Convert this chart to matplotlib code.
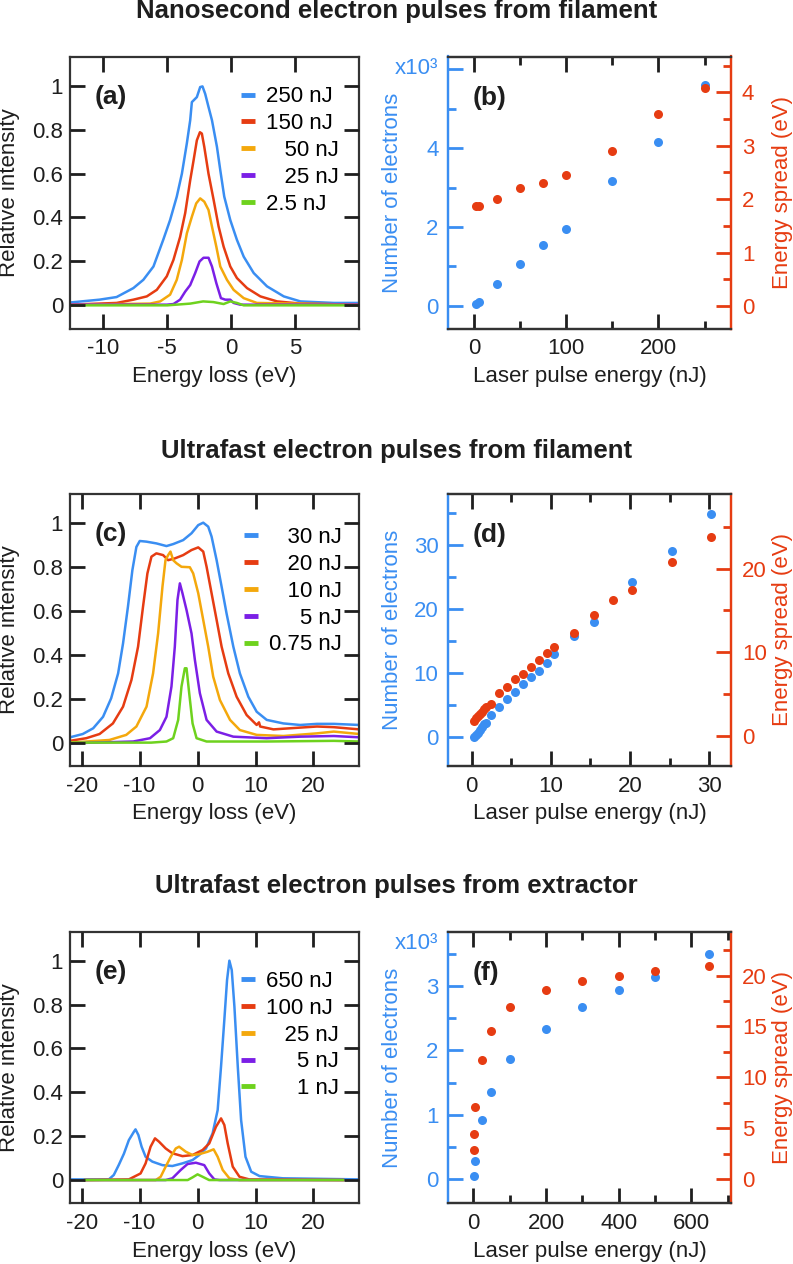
import numpy as np
import matplotlib
matplotlib.use('Agg')
import matplotlib.pyplot as plt
from matplotlib.ticker import FixedLocator

plt.rcParams['font.family'] = ['Liberation Sans', 'DejaVu Sans']
plt.rcParams['font.size'] = 16
plt.rcParams['axes.unicode_minus'] = False
plt.rcParams['axes.axisbelow'] = False
plt.rcParams['xtick.direction'] = 'in'
plt.rcParams['ytick.direction'] = 'in'
plt.rcParams['xtick.top'] = True
plt.rcParams['ytick.right'] = True
plt.rcParams['xtick.major.size'] = 10.5
plt.rcParams['ytick.major.size'] = 10.5
plt.rcParams['xtick.minor.size'] = 6
plt.rcParams['ytick.minor.size'] = 6
plt.rcParams['xtick.major.width'] = 2.0
plt.rcParams['ytick.major.width'] = 2.0
plt.rcParams['xtick.minor.width'] = 2.0
plt.rcParams['ytick.minor.width'] = 2.0

# colours
BLUE = '#3a8ef2'
RED = '#e63c12'
ORANGE = '#f4a80c'
PURPLE = '#7b1fe6'
GREEN = '#6ed21e'
DARK = '#1e1e1e'

# ---------------- (a) nanosecond spectra ----------------
a_x_250 = [-12.6, -10.3, -8.96, -7.65, -6.87, -6.08, -5.3, -4.78, -4.26, -3.86, -3.47, -3.21, -3.08, -2.69,
           -2.43, -2.25, -2.04, -1.78, -1.51, -1.12, -0.86, -0.55, -0.08, 0.44, 0.97, 1.75, 2.79, 4.1, 5.4, 8.0, 10.0]
a_y_250 = [0.01, 0.023, 0.035, 0.076, 0.114, 0.175, 0.30, 0.388, 0.495, 0.60, 0.74, 0.845, 0.928, 0.951,
           0.997, 1.0, 0.966, 0.906, 0.845, 0.723, 0.616, 0.495, 0.388, 0.297, 0.22, 0.145, 0.084, 0.038, 0.015, 0.008, 0.008]
a_x_150 = [-12.6, -8.96, -7.65, -6.6, -5.82, -5.04, -4.52, -4.0, -3.6, -3.21, -2.95, -2.69, -2.45, -2.3, -2.11,
           -1.78, -1.38, -0.99, -0.6, -0.08, 0.44, 1.23, 2.27, 3.58, 5.4, 10.0]
a_y_150 = [0.0, 0.008, 0.023, 0.038, 0.068, 0.13, 0.205, 0.31, 0.42, 0.57, 0.66, 0.753, 0.79, 0.784, 0.723,
           0.60, 0.48, 0.358, 0.266, 0.175, 0.122, 0.076, 0.038, 0.015, 0.005, 0.0]
a_x_50 = [-12.6, -6.34, -5.56, -4.78, -4.26, -3.86, -3.47, -3.08, -2.74, -2.43, -2.11, -1.78, -1.51, -1.17,
          -0.86, -0.34, 0.18, 0.97, 2.0, 10.0]
a_y_50 = [0.0, 0.005, 0.015, 0.046, 0.114, 0.205, 0.327, 0.403, 0.464, 0.487, 0.472, 0.434, 0.358, 0.266,
          0.175, 0.114, 0.068, 0.03, 0.008, 0.0]
a_x_25 = [-12.6, -5.04, -4.52, -4.0, -3.6, -3.21, -2.82, -2.48, -2.17, -1.78, -1.51, -1.17, -0.81, -0.47,
          -0.08, 0.18, 0.7, 10.0]
a_y_25 = [0.0, 0.0, 0.003, 0.023, 0.06, 0.09, 0.145, 0.198, 0.215, 0.215, 0.175, 0.099, 0.03, 0.023,
          0.023, 0.008, 0.0, 0.0]
a_x_2p5 = [-12.6, -5.0, -3.2, -2.2, -1.4, -0.6, -0.08, 0.44, 0.97, 10.0]
a_y_2p5 = [-0.003, -0.003, 0.005, 0.015, 0.012, 0.003, 0.015, 0.008, -0.003, -0.003]

# ---------------- (b) nanosecond yield / spread ----------------
b_energy = [2.5, 5, 25, 50, 75, 100, 150, 200, 250]
b_electrons = [0.04, 0.09, 0.55, 1.06, 1.54, 1.95, 3.17, 4.15, 5.61]   # x10^3
b_spread = [1.88, 1.88, 2.01, 2.21, 2.31, 2.46, 2.90, 3.60, 4.08]      # eV

# ---------------- (c) ultrafast filament spectra ----------------
c_x_30 = [-22.0, -19.8, -18.0, -16.3, -14.9, -13.7, -12.85, -12.0, -11.24, -10.55, -9.97, -8.82, -7.09, -5.36,
          -4.2, -2.48, -1.04, 0.12, 0.98, 1.84, 2.42, 3.29, 4.15, 5.0, 6.17, 7.3, 8.76, 10.2, 11.93, 14.8,
          17.7, 20.6, 23.5, 27.9]
c_y_30 = [0.027, 0.042, 0.068, 0.12, 0.204, 0.317, 0.453, 0.62, 0.785, 0.89, 0.917, 0.914, 0.906, 0.894,
          0.903, 0.921, 0.952, 0.989, 1.0, 0.982, 0.937, 0.83, 0.71, 0.589, 0.438, 0.317, 0.211, 0.143, 0.106,
          0.09, 0.083, 0.088, 0.088, 0.083]
c_x_20 = [-22.0, -19.2, -16.9, -14.6, -12.85, -11.4, -10.26, -9.4, -8.65, -7.95, -7.1, -5.94, -5.07, -3.92,
          -2.48, -1.04, 0.12, 0.98, 1.56, 2.42, 3.29, 4.15, 5.3, 6.74, 8.47, 10.2, 10.6, 10.8, 13.1, 15.96,
          20.6, 23.5, 27.9]
c_y_20 = [0.011, 0.023, 0.042, 0.09, 0.166, 0.287, 0.438, 0.62, 0.77, 0.846, 0.861, 0.853, 0.83, 0.838,
          0.853, 0.876, 0.888, 0.869, 0.80, 0.68, 0.559, 0.438, 0.317, 0.211, 0.128, 0.083, 0.095, 0.076,
          0.063, 0.068, 0.076, 0.073, 0.063]
c_x_10 = [-22.0, -15.2, -12.3, -10.55, -8.8, -7.67, -6.8, -6.05, -5.53, -5.07, -4.67, -4.2, -3.63, -2.77,
          -1.33, -0.75, 0.12, 0.98, 1.84, 2.7, 3.86, 5.6, 7.3, 10.2, 14.8, 20.6, 23.5, 27.9]
c_y_10 = [0.003, 0.015, 0.038, 0.076, 0.166, 0.317, 0.498, 0.71, 0.83, 0.853, 0.869, 0.83, 0.816, 0.80,
          0.798, 0.77, 0.68, 0.559, 0.438, 0.302, 0.196, 0.106, 0.06, 0.038, 0.033, 0.045, 0.053, 0.042]
c_x_5 = [-22.0, -11.1, -8.2, -6.5, -5.36, -4.5, -3.92, -3.46, -3.05, -2.6, -1.9, -1.04, -0.46, 0.4, 1.56,
         3.29, 6.17, 11.93, 17.7, 23.5, 27.9]
c_y_5 = [0.0, 0.008, 0.023, 0.06, 0.12, 0.257, 0.438, 0.65, 0.725, 0.68, 0.604, 0.498, 0.378, 0.227, 0.106,
         0.053, 0.03, 0.023, 0.03, 0.033, 0.027]
c_x_075 = [-22.0, -8.0, -5.36, -4.2, -3.34, -2.77, -2.19, -1.9, -1.44, -0.86, -0.17, 1.56, 11.9, 23.5, 27.9]
c_y_075 = [0.003, 0.003, 0.008, 0.023, 0.106, 0.257, 0.34, 0.34, 0.227, 0.09, 0.023, 0.008, 0.008, 0.011, 0.008]

# ---------------- (d) ultrafast filament yield / spread ----------------
d_energy_n = [0.25, 0.5, 0.75, 1.0, 1.25, 1.5, 1.75, 2.5, 3.5, 4.5, 5.5, 6.5, 7.5, 8.5, 9.5, 10.4, 12.9,
              15.4, 20.3, 25.3, 30.2]
d_electrons = [0.1, 0.36, 0.73, 1.14, 1.66, 2.03, 2.29, 3.43, 4.73, 5.98, 7.12, 8.27, 9.36, 10.4, 11.6,
               13.0, 15.86, 17.94, 24.2, 29.1, 34.8]
d_energy_s = [0.25, 0.5, 0.75, 1.0, 1.25, 1.5, 1.75, 2.5, 3.5, 4.5, 5.5, 6.5, 7.5, 8.5, 9.5, 10.4, 12.9,
              15.4, 17.9, 20.3, 25.3, 30.2]
d_spread = [1.83, 2.11, 2.39, 2.62, 2.9, 3.22, 3.46, 3.86, 5.17, 5.88, 6.80, 7.44, 8.23, 9.03, 9.86, 10.66,
            12.29, 14.43, 16.22, 17.46, 20.8, 23.8]

# ---------------- (e) extractor spectra ----------------
e_x_650 = [-22.0, -15.3, -14.45, -13.6, -12.7, -11.85, -10.98, -10.7, -10.2, -9.65, -8.96, -7.8, -6.07, -4.34,
           -2.6, -0.87, 0.29, 1.45, 2.6, 3.47, 4.05, 4.62, 5.09, 5.49, 5.9, 6.36, 6.94, 7.51, 8.27, 9.25,
           10.7, 14.7, 27.9]
e_y_650 = [0.003, 0.003, 0.023, 0.068, 0.12, 0.182, 0.22, 0.231, 0.205, 0.152, 0.106, 0.084, 0.068, 0.064,
           0.076, 0.091, 0.114, 0.144, 0.213, 0.319, 0.517, 0.73, 0.912, 1.0, 0.957, 0.79, 0.517, 0.274, 0.106,
           0.038, 0.018, 0.008, 0.003]
e_x_100 = [-19.4, -11.85, -9.83, -8.96, -8.1, -7.34, -6.65, -5.5, -4.34, -2.6, -0.87, 0.87, 2.02, 3.18, 4.05,
           4.62, 5.2, 6.07, 7.23, 8.9, 25.1]
e_y_100 = [0.0, 0.003, 0.03, 0.076, 0.152, 0.19, 0.175, 0.144, 0.122, 0.109, 0.114, 0.137, 0.167, 0.243,
           0.281, 0.251, 0.167, 0.061, 0.015, 0.003, 0.0]
e_x_25 = [-19.4, -7.2, -6.36, -5.5, -4.62, -3.76, -3.18, -2.02, -0.87, 0.29, 1.73, 2.77, 3.47, 4.34, 5.49,
          7.2, 25.1]
e_y_25 = [0.0, 0.0, 0.015, 0.061, 0.106, 0.144, 0.152, 0.129, 0.114, 0.118, 0.129, 0.14, 0.106, 0.046,
          0.008, 0.0, 0.0]
e_x_5 = [-19.4, -5.5, -4.34, -2.9, -1.73, -0.29, 1.16, 2.02, 2.9, 3.8, 25.1]
e_y_5 = [0.0, 0.0, 0.008, 0.046, 0.073, 0.079, 0.068, 0.03, 0.003, 0.0, 0.0]
e_x_1 = [-19.4, -1.7, -0.87, 0.0, 0.87, 2.0, 25.1]
e_y_1 = [0.0, 0.0, 0.012, 0.026, 0.015, 0.0, 0.0]

# ---------------- (f) extractor yield / spread ----------------
f_energy_n = [1, 5, 25, 50, 100, 200, 300, 400, 500, 650]
f_electrons = [0.052, 0.275, 0.913, 1.36, 1.86, 2.33, 2.67, 2.94, 3.14, 3.51]   # x10^3
f_energy_s = [1, 3, 5, 25, 50, 100, 200, 300, 400, 500, 650]
f_spread = [2.87, 4.47, 7.08, 11.75, 14.52, 16.87, 18.6, 19.51, 20.0, 20.42, 20.98]

colors5 = [BLUE, RED, ORANGE, PURPLE, GREEN]

W, H = 793, 1264
fig = plt.figure(figsize=(W / 100, H / 100), dpi=100)

TW = 2.0      # tick width (pt)
TMAJ = 10.5   # major tick length
TMIN = 6.0    # minor tick length


def box(left_px, top_px, right_px, bottom_px):
    return [left_px / W, 1 - bottom_px / H, (right_px - left_px) / W, (bottom_px - top_px) / H]


def style_spectrum(ax, xlim, xticks, ylim):
    ax.set_xlim(*xlim)
    ax.set_ylim(*ylim)
    ax.set_xticks(xticks)
    ax.set_yticks([0, 0.2, 0.4, 0.6, 0.8, 1.0])
    ax.set_yticklabels(['0', '0.2', '0.4', '0.6', '0.8', '1'])
    ax.xaxis.set_ticks_position('both')
    ax.yaxis.set_ticks_position('both')
    for s in ax.spines.values():
        s.set_linewidth(1.6)
        s.set_color('#333333')
    ax.set_xlabel('Energy loss (eV)', color=DARK)
    ax.set_ylabel('Relative intensity', color=DARK)
    ax.xaxis.set_label_coords(0.5, -0.137)
    ax.yaxis.set_label_coords(-0.173, 0.5)


def spectrum_ticks(ax):
    ax.tick_params(axis='both', which='major', direction='in', length=TMAJ, width=TW,
                   top=True, bottom=True, left=True, right=True, color=DARK, labelcolor=DARK, labelsize=16)
    ax.tick_params(axis='x', pad=7)
    ax.tick_params(axis='y', pad=5)


def spectrum_legend(ax, labels, anchor):
    leg = ax.legend(labels=labels, loc='upper right', bbox_to_anchor=anchor, frameon=False,
                    handlelength=0.62, handletextpad=0.5, labelspacing=0.26, borderpad=0,
                    borderaxespad=0, fontsize=16)
    for line in leg.get_lines():
        line.set_linewidth(3.5)
        line.set_solid_capstyle('butt')
    return leg


def style_twin(ax, ax2, xlim, xmaj, xmin, ylim, ymaj, ymin, ylabels, ylim2, ymaj2, ymin2):
    ax.set_xlim(*xlim)
    ax.set_ylim(*ylim)
    ax2.set_ylim(*ylim2)
    ax.xaxis.set_major_locator(FixedLocator(xmaj))
    ax.xaxis.set_minor_locator(FixedLocator(xmin))
    ax.set_yticks(ymaj)
    ax.set_yticklabels(ylabels)
    ax.yaxis.set_minor_locator(FixedLocator(ymin))
    ax2.set_yticks(ymaj2)
    ax2.set_yticklabels(['%g' % v for v in ymaj2])
    ax2.yaxis.set_minor_locator(FixedLocator(ymin2))
    ax.xaxis.set_ticks_position('both')
    ax.yaxis.set_ticks_position('left')
    ax2.yaxis.set_ticks_position('right')
    for a in (ax, ax2):
        for s in a.spines.values():
            s.set_linewidth(1.6)
            s.set_color('#333333')
        a.spines['left'].set_color(BLUE)
        a.spines['right'].set_color(RED)
    ax.set_xlabel('Laser pulse energy (nJ)', color=DARK)
    ax.set_ylabel('Number of electrons', color=BLUE)
    ax2.set_ylabel('Energy spread (eV)', color=RED)
    ax.xaxis.set_label_coords(0.5, -0.137)
    ax.yaxis.set_label_coords(-0.160, 0.5)
    ax2.yaxis.set_label_coords(1.146, 0.5)


def twin_ticks(ax, ax2):
    ax.tick_params(axis='x', which='both', direction='in', top=True, bottom=True, width=TW,
                   color=DARK, labelcolor=DARK, labelsize=16, pad=7)
    ax.tick_params(axis='y', which='both', direction='in', left=True, right=False, width=TW,
                   color=BLUE, labelcolor=BLUE, labelsize=16, pad=7)
    ax2.tick_params(axis='y', which='both', direction='in', right=True, left=False, width=TW,
                    color=RED, labelcolor=RED, labelsize=16, pad=8)
    for a in (ax, ax2):
        a.tick_params(which='major', length=TMAJ)
        a.tick_params(which='minor', length=TMIN)


def title(y_px, text):
    fig.text(0.5, 1 - y_px / H, text, ha='center', va='baseline', fontsize=18.5,
             fontweight='bold', color=DARK)


LEFT = (70, 359.3)
RIGHT = (448.3, 730.7)
ROWS = [(56.5, 328.7), (494, 766), (931.7, 1203.3)]

# ---- row 1 ----
title(18, 'Nanosecond electron pulses from filament')
ax = fig.add_axes(box(LEFT[0], ROWS[0][0], LEFT[1], ROWS[0][1]))
for xs, ys, c in zip([a_x_250, a_x_150, a_x_50, a_x_25, a_x_2p5],
                     [a_y_250, a_y_150, a_y_50, a_y_25, a_y_2p5], colors5):
    ax.plot(xs, ys, color=c, lw=1.8)
style_spectrum(ax, (-12.6, 10.0), [-10, -5, 0, 5], (-0.11, 1.137))
spectrum_legend(ax, ['250 nJ', '150 nJ', '\u2007 50 nJ', '\u2007 25 nJ', '2.5 nJ'], (0.93, 0.89))
ax.text(0.086, 0.852, '(a)', transform=ax.transAxes, fontsize=19, fontweight='bold', va='center', color=DARK)
spectrum_ticks(ax)

ax = fig.add_axes(box(RIGHT[0], ROWS[0][0], RIGHT[1], ROWS[0][1]))
ax2 = ax.twinx()
ax.plot(b_energy, b_electrons, 'o', color=BLUE, ms=6.5, mec='none')
ax2.plot(b_energy, b_spread, 'o', color=RED, ms=6.5, mec='none')
style_twin(ax, ax2, (-27.9, 278.4), [0, 100, 200], [50, 150, 250],
           (-0.58, 6.33), [0, 2, 4, 6], [1, 3, 5], ['0', '2', '4', ''],
           (-0.425, 4.67), [0, 1, 2, 3, 4], [0.5, 1.5, 2.5, 3.5, 4.5])
ax.text(-0.035, 0.957, 'x10\u00b3', transform=ax.transAxes, ha='right', va='center', color=BLUE, fontsize=16)
ax2.text(0.087, 0.848, '(b)', transform=ax2.transAxes, fontsize=19, fontweight='bold', va='center', color=DARK)
twin_ticks(ax, ax2)

# ---- row 2 ----
title(458, 'Ultrafast electron pulses from filament')
ax = fig.add_axes(box(LEFT[0], ROWS[1][0], LEFT[1], ROWS[1][1]))
for xs, ys, c in zip([c_x_30, c_x_20, c_x_10, c_x_5, c_x_075],
                     [c_y_30, c_y_20, c_y_10, c_y_5, c_y_075], colors5):
    ax.plot(xs, ys, color=c, lw=1.8)
style_spectrum(ax, (-22.0, 27.9), [-20, -10, 0, 10, 20], (-0.103, 1.13))
spectrum_legend(ax, ['\u2007\u200830 nJ', '\u2007\u200820 nJ', '\u2007\u200810 nJ',
                     '\u2007\u2008\u20075 nJ', '0.75 nJ'], (0.94, 0.878))
ax.text(0.086, 0.852, '(c)', transform=ax.transAxes, fontsize=19, fontweight='bold', va='center', color=DARK)
spectrum_ticks(ax)

ax = fig.add_axes(box(RIGHT[0], ROWS[1][0], RIGHT[1], ROWS[1][1]))
ax2 = ax.twinx()
ax.plot(d_energy_n, d_electrons, 'o', color=BLUE, ms=6.5, mec='none')
ax2.plot(d_energy_s, d_spread, 'o', color=RED, ms=6.5, mec='none')
style_twin(ax, ax2, (-2.95, 32.7), [0, 10, 20, 30], [5, 15, 25],
           (-4.48, 37.96), [0, 10, 20, 30], [5, 15, 25, 35], ['0', '10', '20', '30'],
           (-3.58, 28.9), [0, 10, 20], [5, 15, 25])
ax2.text(0.087, 0.848, '(d)', transform=ax2.transAxes, fontsize=19, fontweight='bold', va='center', color=DARK)
twin_ticks(ax, ax2)

# ---- row 3 ----
title(893, 'Ultrafast electron pulses from extractor')
ax = fig.add_axes(box(LEFT[0], ROWS[2][0], LEFT[1], ROWS[2][1]))
for xs, ys, c in zip([e_x_650, e_x_100, e_x_25, e_x_5, e_x_1],
                     [e_y_650, e_y_100, e_y_25, e_y_5, e_y_1], colors5):
    ax.plot(xs, ys, color=c, lw=1.8)
style_spectrum(ax, (-22.0, 27.9), [-20, -10, 0, 10, 20], (-0.106, 1.132))
spectrum_legend(ax, ['650 nJ', '100 nJ', '\u2007 25 nJ', '\u2007\u2007 5 nJ', '\u2007\u2007 1 nJ'],
                (0.93, 0.855))
ax.text(0.086, 0.852, '(e)', transform=ax.transAxes, fontsize=19, fontweight='bold', va='center', color=DARK)
spectrum_ticks(ax)

ax = fig.add_axes(box(RIGHT[0], ROWS[2][0], RIGHT[1], ROWS[2][1]))
ax2 = ax.twinx()
ax.plot(f_energy_n, f_electrons, 'o', color=BLUE, ms=6.5, mec='none')
ax2.plot(f_energy_s, f_spread, 'o', color=RED, ms=6.5, mec='none')
style_twin(ax, ax2, (-68.8, 708.5), [0, 200, 400, 600], [100, 300, 500, 700],
           (-0.38, 3.85), [0, 1, 2, 3], [0.5, 1.5, 2.5, 3.5], ['0', '1', '2', '3'],
           (-2.35, 24.3), [0, 5, 10, 15, 20], [2.5, 7.5, 12.5, 17.5, 22.5])
ax.text(-0.035, 0.957, 'x10\u00b3', transform=ax.transAxes, ha='right', va='center', color=BLUE, fontsize=16)
ax2.text(0.087, 0.848, '(f)', transform=ax2.transAxes, fontsize=19, fontweight='bold', va='center', color=DARK)
twin_ticks(ax, ax2)

fig.savefig('out.png', dpi=100)
